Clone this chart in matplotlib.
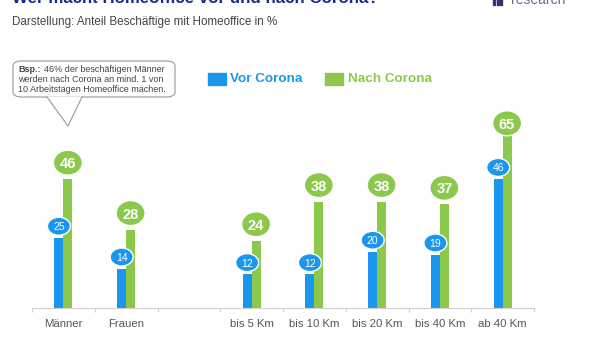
import matplotlib
matplotlib.use("Agg")
import matplotlib.pyplot as plt
from matplotlib.patches import Ellipse, FancyBboxPatch, Polygon, Rectangle
from matplotlib.lines import Line2D

plt.rcParams['font.family'] = ['Liberation Sans', 'DejaVu Sans']

categories = ["Männer", "Frauen", "", "bis 5 Km", "bis 10 Km", "bis 20 Km", "bis 40 Km", "ab 40 Km"]
vor_corona = [25, 14, None, 12, 12, 20, 19, 46]
nach_corona = [46, 28, None, 24, 38, 38, 37, 65]
series_names = ["Vor Corona", "Nach Corona"]

BLUE = "#1A96EE"
GREEN = "#8CC84B"

W, H = 600, 337
fig = plt.figure(figsize=(6, 3.37), dpi=100)

def fx(px):
    return px / W

def fy(py):
    return 1 - py / H

# axes geometry in pixels
left_px, right_px, base_px, top_px = 32, 534, 308, 110.8
ax = fig.add_axes([fx(left_px), fy(base_px), fx(right_px - left_px), (base_px - top_px) / H])
ymax = (base_px - top_px) / 2.8
ax.set_ylim(0, ymax)
n = len(categories)
ax.set_xlim(-0.5, n - 0.5)

bw = 0.143
xs = list(range(n))
for i in xs:
    v, g = vor_corona[i], nach_corona[i]
    if v is None:
        continue
    ax.bar(i - bw / 2, v, width=bw, color=BLUE, zorder=2)
    ax.bar(i + bw / 2, g, width=bw, color=GREEN, zorder=2)

# bubbles
gw, gh = 29 / 62.75, 25 / 2.8
bw_e, bh_e = 23 / 62.75, 18 / 2.8
for i in xs:
    v, g = vor_corona[i], nach_corona[i]
    if v is None:
        continue
    gy = min(g + 5.9, ymax - gh / 2)
    ax.add_patch(Ellipse((i + bw / 2, gy), gw, gh, facecolor=GREEN, edgecolor="white", lw=1.0, zorder=4))
    ax.text(i + bw / 2, gy, f"{g}", ha="center", va="center_baseline", color="white",
            fontsize=10.5, fontweight="bold", zorder=5)
    by = v + 4.2
    ax.add_patch(Ellipse((i - bw / 2, by), bw_e, bh_e, facecolor=BLUE, edgecolor="white", lw=1.0, zorder=4))
    ax.text(i - bw / 2, by, f"{v}", ha="center", va="center_baseline", color="white",
            fontsize=7.5, zorder=5)

for s in ["top", "right", "left"]:
    ax.spines[s].set_visible(False)
ax.spines["bottom"].set_color("#d0d0d0")
ax.spines["bottom"].set_linewidth(0.8)
ax.set_yticks([])
ax.set_xticks([x - 0.5 for x in range(n + 1)])
ax.set_xticklabels([])
ax.tick_params(axis="x", length=3, color="#d0d0d0", width=0.8)
ax.set_xticks(xs, minor=True)
ax.set_xticklabels(categories, minor=True)
ax.tick_params(axis="x", which="minor", length=0, pad=8, labelsize=8.2, labelcolor="#555555")

# title, subtitle, logo
fig.text(fx(12), fy(3), "Wer macht Homeoffice vor und nach Corona?", fontsize=12.2, fontweight="bold",
         color="#1B2A8C", ha="left", va="baseline")
fig.text(fx(12), fy(22), "Darstellung: Anteil Beschäftige mit Homeoffice in %", fontsize=8.4,
         color="#444444", ha="left", va="center")
for k in range(3):
    fig.add_artist(Rectangle((fx(493 + k * 3.5), fy(5)), fx(2.2), 7 / H, color="#3b2f6e",
                             transform=fig.transFigure))
fig.text(fx(511), fy(4), "research", fontsize=10, color="#6a6a8a", ha="left", va="baseline")

# legend
fig.add_artist(Rectangle((fx(208), fy(85)), fx(18), 12 / H, color=BLUE, transform=fig.transFigure))
fig.text(fx(230), fy(79), series_names[0], fontsize=9.7, fontweight="bold", color=BLUE, ha="left", va="center")
fig.add_artist(Rectangle((fx(325), fy(85)), fx(18), 12 / H, color=GREEN, transform=fig.transFigure))
fig.text(fx(348), fy(79), series_names[1], fontsize=9.7, fontweight="bold", color=GREEN, ha="left", va="center")

# callout
box = FancyBboxPatch((fx(13), fy(97)), fx(162), 36 / H, boxstyle="round,pad=0,rounding_size=0.015",
                     facecolor="white", edgecolor="#999999", lw=0.8, transform=fig.transFigure, zorder=3)
fig.add_artist(box)
fig.add_artist(Polygon([(fx(47), fy(96.5)), (fx(82), fy(96.5)), (fx(68), fy(126))], closed=True,
                       facecolor="white", edgecolor="none", transform=fig.transFigure, zorder=4))
fig.add_artist(Line2D([fx(47), fx(68), fx(82)], [fy(97), fy(126), fy(97)], color="#999999", lw=0.8,
                      transform=fig.transFigure, zorder=5))
tc = "#444444"
cfs = 6.5
bold_t = fig.text(fx(18), fy(69), "Bsp.:", fontsize=cfs, fontweight="bold", color=tc, va="center", zorder=6)
renderer = fig.canvas.get_renderer()
bb = bold_t.get_window_extent(renderer=renderer)
fig.text((bb.x1 + 3) / W, fy(69), "46% der beschäftigen Männer", fontsize=cfs, color=tc, va="center", zorder=6)
fig.text(fx(18), fy(79), "werden nach Corona an mind. 1 von", fontsize=cfs, color=tc, va="center", zorder=6)
fig.text(fx(18), fy(89), "10 Arbeitstagen Homeoffice machen.", fontsize=cfs, color=tc, va="center", zorder=6)

fig.savefig("out.png", dpi=100)
